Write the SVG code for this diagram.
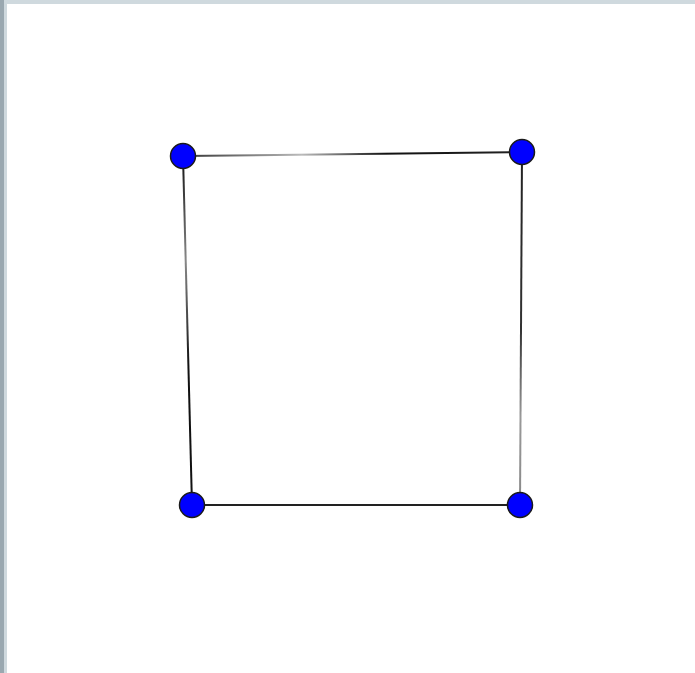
<svg xmlns="http://www.w3.org/2000/svg" width="695" height="673" viewBox="0 0 695 673">
<style>
.node{fill:#0000ff;stroke:#1a1a1a;stroke-width:1.5}
.edge{stroke-width:2;fill:none}
</style>
<defs>
<linearGradient id="gTop" gradientUnits="userSpaceOnUse" x1="183" y1="156" x2="522" y2="152">
<stop offset="0" stop-color="#333"/><stop offset="0.35" stop-color="#bbb"/><stop offset="0.6" stop-color="#111"/><stop offset="1" stop-color="#222"/>
</linearGradient>
<linearGradient id="gLeft" gradientUnits="userSpaceOnUse" x1="183" y1="156" x2="192" y2="505">
<stop offset="0" stop-color="#111"/><stop offset="0.3" stop-color="#888"/><stop offset="0.6" stop-color="#111"/><stop offset="1" stop-color="#111"/>
</linearGradient>
<linearGradient id="gRight" gradientUnits="userSpaceOnUse" x1="522" y1="152" x2="520" y2="505">
<stop offset="0" stop-color="#222"/><stop offset="0.5" stop-color="#333"/><stop offset="0.75" stop-color="#999"/><stop offset="1" stop-color="#888"/>
</linearGradient>
</defs>
<rect width="695" height="673" fill="#ffffff"/>
<rect x="0" y="0" width="695" height="4" fill="#cfd9de"/>
<rect x="0" y="0" width="7" height="673" fill="#cfd9de"/>
<rect x="0" y="0" width="4" height="673" fill="#9aa8b0"/>
<g id="connectors">
<line class="edge" x1="183" y1="156" x2="522" y2="152" stroke="url(#gTop)"/>
<line class="edge" x1="183" y1="156" x2="192" y2="505" stroke="url(#gLeft)"/>
<line class="edge" x1="522" y1="152" x2="520" y2="505" stroke="url(#gRight)"/>
<line class="edge" x1="192" y1="505" x2="520" y2="505" stroke="#222"/>
</g>
<g id="n1"><circle class="node" cx="183" cy="156" r="12.5"/></g>
<g id="n2"><circle class="node" cx="522" cy="152" r="12.5"/></g>
<g id="n3"><circle class="node" cx="192" cy="505" r="12.5"/></g>
<g id="n4"><circle class="node" cx="520" cy="505" r="12.5"/></g>
</svg>
